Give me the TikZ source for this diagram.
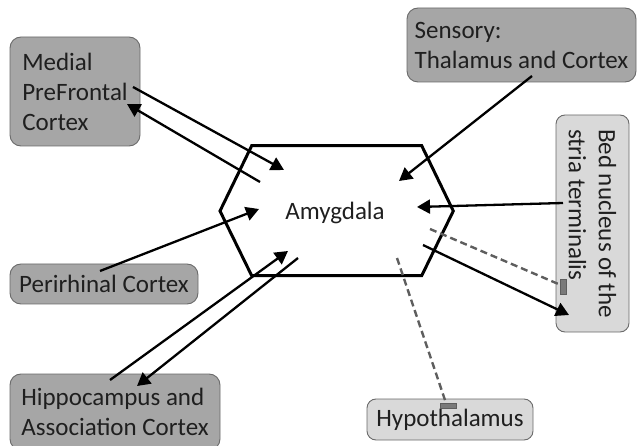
\documentclass[tikz,border=0pt]{standalone}
\usepackage{fontspec}
\setmainfont{Carlito}
\usetikzlibrary{arrows.meta}
\definecolor{darkfill}{HTML}{A6A6A6}
\definecolor{lightfill}{HTML}{D9D9D9}
\definecolor{boxedge}{HTML}{6A6A6A}
\definecolor{dashgray}{HTML}{5E5E5E}
\definecolor{barfill}{HTML}{7A7A7A}
\begin{document}
\begin{tikzpicture}[x=1pt,y=-1pt,
  txt/.style={font=\fontsize{25}{30}\selectfont, text=black!88},
  darkbox/.style={txt, draw=boxedge, fill=darkfill, rounded corners=11pt, line width=0.9pt, align=left, inner sep=0pt},
  lightbox/.style={txt, draw=boxedge, fill=lightfill, rounded corners=9pt, line width=0.9pt, align=left, inner sep=0pt},
  conn/.style={line width=2.3pt, -{Triangle[length=13pt,width=14pt]}},
  inhib/.style={line width=2.4pt, dashgray, dash pattern=on 7pt off 4pt},
  barcap/.style={fill=barfill, draw=dashgray, line width=0.6pt}
]
\useasboundingbox (0,0) rectangle (637,446);

% boxes
\node[darkbox, minimum width=130pt, minimum height=109pt] (mpfc) at (75,91.5) {Medial\\PreFrontal\\Cortex};
\node[darkbox, minimum width=229pt, minimum height=74pt] (sens) at (521.5,45) {Sensory:\\Thalamus and Cortex};
\node[lightbox, rotate=-90, minimum width=217pt, minimum height=73pt] (bnst) at (592.5,223.5) {Bed nucleus of the\\stria terminalis};
\node[darkbox, minimum width=188pt, minimum height=40pt] (peri) at (104,284) {Perirhinal Cortex};
\node[darkbox, minimum width=210pt, minimum height=76pt] (hipp) at (115,412) {Hippocampus and\\Association Cortex};
\node[lightbox, minimum width=166pt, minimum height=41pt] (hypo) at (450,419.5) {Hypothalamus};

% amygdala
\draw[line width=3pt] (251.7,145.7) -- (421.7,145.7) -- (453.3,211) -- (421.7,275.7) -- (251.7,275.7) -- (220,211) -- cycle;
\node[txt] (amy) at (335,213) {Amygdala};

% connector end points
\coordinate (mpfcOut) at (133,87);
\coordinate (amyIn1) at (284,170);
\coordinate (amyOut1) at (260,182);
\coordinate (mpfcIn) at (127,104);
\coordinate (sensOut) at (532,76);
\coordinate (amyIn2) at (399,181);
\coordinate (bnstOut) at (563,203);
\coordinate (amyIn3) at (417,207);
\coordinate (amyOut2) at (430,229);
\coordinate (bnstBar) at (563,286);
\coordinate (amyOut3) at (423,245);
\coordinate (bnstIn) at (569,315);
\coordinate (amyOut4) at (397,258);
\coordinate (hypoBar) at (447,406);
\coordinate (periOut) at (100,271);
\coordinate (amyIn4) at (259,209);
\coordinate (hippOut) at (110,380);
\coordinate (amyIn5) at (288,251);
\coordinate (amyOut5) at (298,258);
\coordinate (hippIn) at (137,386);

% connectors
\draw[conn] (mpfcOut) -- (amyIn1);
\draw[conn] (amyOut1) -- (mpfcIn);
\draw[conn] (sensOut) -- (amyIn2);
\draw[conn] (bnstOut) -- (amyIn3);
\draw[inhib] (amyOut2) -- (bnstBar);
\filldraw[barcap] ([xshift=-3pt,yshift=-8pt]bnstBar) rectangle ([xshift=3pt,yshift=7pt]bnstBar);
\draw[conn] (amyOut3) -- (bnstIn);
\draw[inhib] (amyOut4) -- (hypoBar);
\filldraw[barcap] ([xshift=-7pt,yshift=-2pt]hypoBar) rectangle ([xshift=9pt,yshift=3pt]hypoBar);
\draw[conn] (periOut) -- (amyIn4);
\draw[conn] (hippOut) -- (amyIn5);
\draw[conn] (amyOut5) -- (hippIn);
\end{tikzpicture}
\end{document}
